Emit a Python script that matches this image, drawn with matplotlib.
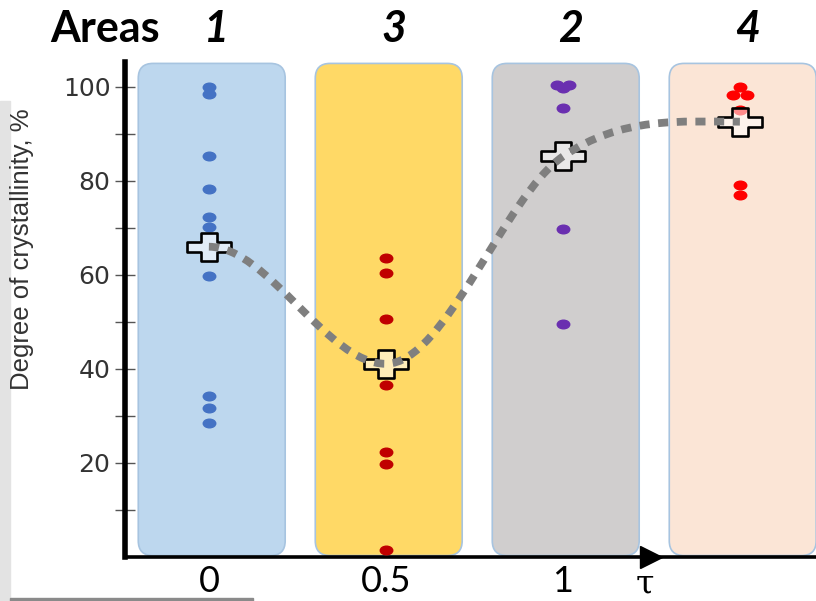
import numpy as np
import matplotlib.pyplot as plt
from matplotlib.patches import FancyBboxPatch, PathPatch, Rectangle
from matplotlib.path import Path
from matplotlib.transforms import blended_transform_factory

# column positions on the tau axis and the area numbers written above them
area_x = [0, 0.5, 1, 1.5]
area_labels = ['1', '3', '2', '4']
x_ticks = [0, 0.5, 1]
x_tick_labels = ['0', '0.5', '1']
y_major = [20, 40, 60, 80, 100]
y_minor = [10, 30, 50, 70, 90]

# degree of crystallinity of the single samples, per column
area1_vals = [100, 98.5, 85.3, 78.3, 72.3, 70.2, 59.8, 34.3, 31.8, 28.6]
area3_vals = [63.6, 60.4, 50.6, 36.6, 22.4, 19.7, 1.5]
area2_vals = [100.4, 100.4, 99.8, 95.5, 69.8, 49.6]
area4_vals = [100.0, 98.3, 98.3, 95.1, 79.1, 77.0]
# small sideways shifts of overlapping dots
area1_jit = [0] * 10
area3_jit = [0] * 7
area2_jit = [-0.018, 0.018, 0, 0, 0, 0]
area4_jit = [0, -0.02, 0.02, 0, 0, 0]

# the "+" markers (column averages) joined by the dotted trend curve
mean_vals = [66.0, 41.1, 85.2, 92.6]

box_colors = ['#BDD7EE', '#FFD966', '#D0CECE', '#FBE5D6']
dot_colors = ['#4472C4', '#C00000', '#6A2FB0', '#FF0000']


def oval_marker(sx):
    c = Path.unit_circle()
    return Path(c.vertices * [sx, 1.0], c.codes)


def plus_marker(sx, a=0.38):
    v = [(-a, 1), (a, 1), (a, a), (1, a), (1, -a), (a, -a), (a, -1),
         (-a, -1), (-a, -a), (-1, -a), (-1, a), (-a, a), (-a, 1)]
    v = np.array(v) * [sx, 1.0]
    return Path(v, closed=True)


def trend_path(xs, ys):
    """Smooth cubic Bezier through the mean points (flat at extremes)."""
    xs = np.asarray(xs, float)
    ys = np.asarray(ys, float)
    d = np.diff(ys) / np.diff(xs)
    m = np.zeros_like(ys)
    for i in range(1, len(ys) - 1):
        if d[i - 1] * d[i] > 0:
            m[i] = (ys[i + 1] - ys[i - 1]) / (xs[i + 1] - xs[i - 1])
    verts = [(xs[0], ys[0])]
    codes = [Path.MOVETO]
    for i in range(len(xs) - 1):
        h = (xs[i + 1] - xs[i]) / 3
        verts += [(xs[i] + h, ys[i] + m[i] * h),
                  (xs[i + 1] - h, ys[i + 1] - m[i + 1] * h),
                  (xs[i + 1], ys[i + 1])]
        codes += [Path.CURVE4] * 3
    return Path(verts, codes)


fig = plt.figure(figsize=(8.16, 6.01), dpi=100)
ax = fig.add_axes([125 / 816, 44 / 601, 691 / 816, 495 / 601])

# grey scrap of the slide background on the left/bottom edge
fig.patches.append(Rectangle((0, 0), 10 / 816, 500 / 601, transform=fig.transFigure,
                             color='#e3e3e3', zorder=0))
fig.patches.append(Rectangle((10 / 816, 0), 243 / 816, 3 / 601, transform=fig.transFigure,
                             color='#8a8a8a', zorder=0))

ax.set_xlim(-0.237, 1.715)
ax.set_ylim(0, 105.3)

# rounded background columns
box_w = 0.415
for x, col in zip(area_x, box_colors):
    ax.add_patch(FancyBboxPatch((x + 0.008 - box_w / 2, 0.3), box_w, 104.7,
                                boxstyle='round,pad=0,rounding_size=0.042',
                                mutation_aspect=75, facecolor=col,
                                edgecolor='#A7C4E0', lw=1.2, zorder=1))

groups = [(area1_vals, area1_jit), (area3_vals, area3_jit),
          (area2_vals, area2_jit), (area4_vals, area4_jit)]
dot = oval_marker(1.45)
for x, (vals, jit), col in zip(area_x, groups, dot_colors):
    ax.plot(np.array(jit) + x, vals, ls='none', marker=dot, ms=9,
            color=col, mec=col, zorder=3)

ax.plot(area_x, mean_vals, ls='none', marker=plus_marker(1.6), ms=32,
        mfc=(1, 1, 1, 0.55), mec='black', mew=1.9, zorder=4)

curve = PathPatch(trend_path(area_x, mean_vals), facecolor='none',
                  edgecolor='#7f7f7f', lw=5.6, linestyle=(0, (1.3, 1.1)),
                  capstyle='butt', zorder=5)
ax.add_patch(curve)

# axes
for s in ['top', 'right']:
    ax.spines[s].set_visible(False)
ax.spines['left'].set_linewidth(4)
ax.spines['bottom'].set_linewidth(2.6)
ax.plot([1.249], [0], marker='>', ms=16.5, color='black', clip_on=False, zorder=6)

ax.set_yticks(y_major)
ax.set_yticks(y_minor, minor=True)
ax.tick_params(axis='y', which='both', direction='inout', length=14, width=1,
               color='#555555', pad=3.5, labelsize=18, labelcolor='#333333')
for t in ax.get_yticklabels():
    t.set_family('DejaVu Sans')

ax.set_xticks(x_ticks)
ax.set_xticklabels(x_tick_labels, family='Lato', fontsize=26)
ax.tick_params(axis='x', length=0, pad=6)
ax.text(1.232, -2.5, 'τ', family='DejaVu Serif', fontsize=24,
        ha='center', va='top')

fig.text(22 / 816, 1 - 249 / 601, 'Degree of crystallinity, %', rotation=90,
         ha='center', va='center', family='Liberation Sans', fontsize=18.5,
         color='#333333')

fig.text(50 / 816, 1 - 42 / 601, 'Areas', family='Lato', weight='bold',
         fontsize=31, ha='left', va='baseline')
top_tr = blended_transform_factory(ax.transData, fig.transFigure)
for x, lab in zip(area_x, area_labels):
    ax.text(x + 0.022, 1 - 42 / 601, lab, transform=top_tr,
            family='Lato', weight='bold', style='italic', fontsize=31,
            ha='center', va='baseline')

fig.savefig('out.png', dpi=100)
